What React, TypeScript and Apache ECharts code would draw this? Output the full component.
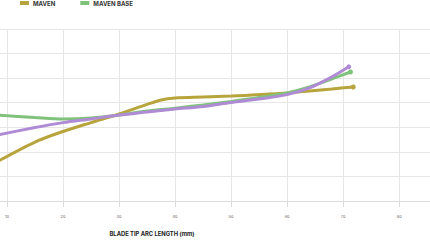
import React, { useEffect, useRef } from "react";
import * as echarts from "echarts";

const xTicks = [10, 20, 30, 40, 50, 60, 70, 80];
const legendNames = ["MAVEN", "MAVEN BASE"];

const mavenX = [8, 15, 20, 25, 30, 35, 37.5, 40, 45, 50, 55, 60, 64, 68, 71.8];
const mavenY = [1.57, 2.4, 2.83, 3.19, 3.54, 3.93, 4.11, 4.19, 4.23, 4.27, 4.33, 4.4, 4.48, 4.56, 4.64];

const baseX = [8, 15, 20, 25, 30, 35, 40, 45, 50, 55, 60, 64, 68, 71.3];
const baseY = [3.5, 3.4, 3.34, 3.38, 3.5, 3.66, 3.78, 3.91, 4.05, 4.21, 4.4, 4.64, 4.97, 5.25];

const thirdX = [8, 15, 20, 25, 30, 35, 40, 45, 50, 55, 60, 64, 68, 71];
const thirdY = [2.67, 2.99, 3.19, 3.34, 3.5, 3.62, 3.74, 3.85, 4.01, 4.15, 4.33, 4.6, 5.05, 5.46];

const colors = ["#b7a43c", "#80c27c", "#ae8bd4"];

function pairs(xs: number[], ys: number[]) {
  return xs.map((x, i) => [x, ys[i]]);
}

function makeSeries(name: string, xs: number[], ys: number[], color: string) {
  const data: any[] = pairs(xs, ys);
  const last = data.length - 1;
  data[last] = { value: data[last], symbol: "circle", symbolSize: 5 };
  return {
    type: "line",
    name,
    data,
    smooth: 0.3,
    showSymbol: true,
    symbol: "none",
    lineStyle: { width: 3, color },
    itemStyle: { color },
    clip: true,
  };
}

export default function App() {
  const ref = useRef<HTMLDivElement>(null);
  useEffect(() => {
    if (!ref.current) return;
    const chart = echarts.init(ref.current, null, { renderer: "svg" });
    chart.setOption({
      animation: false,
      textStyle: { fontFamily: "Inter" },
      legend: {
        data: legendNames,
        left: 20,
        top: 0,
        padding: 0,
        icon: "rect",
        itemWidth: 9,
        itemHeight: 4,
        itemGap: 25,
        textStyle: { fontSize: 6, fontWeight: "bold", color: "#333", padding: [0, 0, 0, -1] },
      },
      grid: { left: 0, right: 0, top: 29, bottom: 34 },
      xAxis: {
        type: "value",
        min: 8.75,
        max: 85.5,
        name: "BLADE TIP ARC LENGTH (mm)",
        nameLocation: "middle",
        nameGap: 29,
        nameTextStyle: { fontSize: 5.8, fontWeight: "bold", color: "#222", padding: [0, 126, 0, 0] },
        axisLine: { show: true, lineStyle: { color: "#dcdcdc", width: 1 } },
        axisTick: { show: true, length: 6, customValues: xTicks, lineStyle: { color: "#dcdcdc" } },
        axisLabel: { customValues: xTicks, fontSize: 4, color: "#666", margin: 13 },
        splitLine: { show: true, lineStyle: { color: "#e6e6e6", width: 1 } },
      },
      yAxis: {
        type: "value",
        min: 0,
        max: 7,
        interval: 1,
        axisLine: { show: false },
        axisTick: { show: false },
        axisLabel: { show: false },
        splitLine: { show: true, lineStyle: { color: "#e6e6e6", width: 1 } },
      },
      series: [
        makeSeries("MAVEN", mavenX, mavenY, colors[0]),
        makeSeries("MAVEN BASE", baseX, baseY, colors[1]),
        makeSeries("THIRD", thirdX, thirdY, colors[2]),
      ],
    });
    return () => chart.dispose();
  }, []);
  return (
    <div
      ref={ref}
      style={{ position: "fixed", left: 0, top: 0, width: 430, height: 241, background: "#fff" }}
    />
  );
}
